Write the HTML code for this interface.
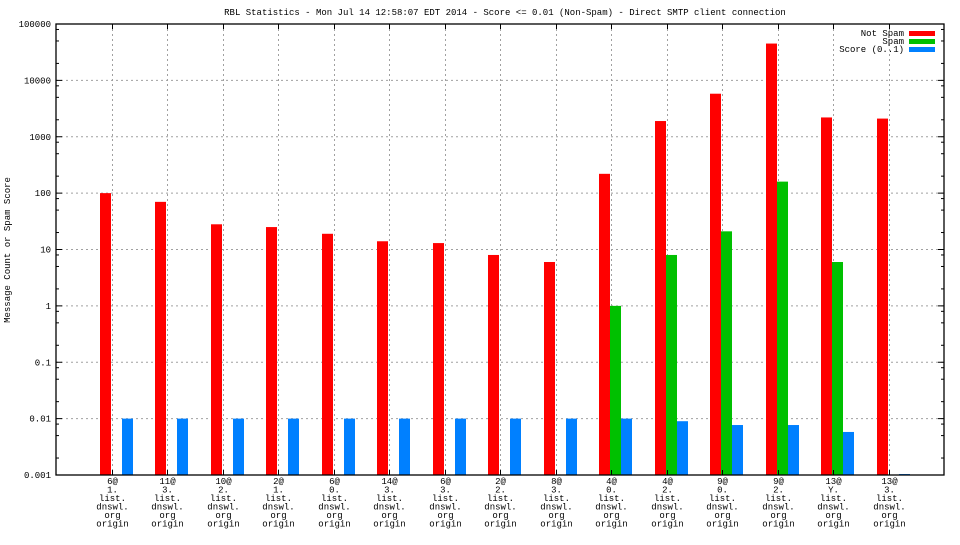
<!DOCTYPE html>
<html><head><meta charset="utf-8"><style>
html,body{margin:0;padding:0;background:#fff;}
svg text{font-family:"Liberation Mono","DejaVu Sans Mono",monospace;font-size:9px;fill:#000;}
</style></head><body>
<svg id="chart" width="960" height="540" xmlns="http://www.w3.org/2000/svg">
<text x="505" y="15" text-anchor="middle">RBL Statistics - Mon Jul 14 12:58:07 EDT 2014 - Score &lt;= 0.01 (Non-Spam) - Direct SMTP client connection</text>
<text transform="translate(10,250) rotate(-90)" text-anchor="middle">Message Count or Spam Score</text>
<g id="grid"></g><g id="bars"></g><g id="axes"></g>
<g>
<text x="904" y="36" text-anchor="end">Not Spam</text>
<rect x="909" y="31" width="26" height="5" fill="#ff0000"/>
<text x="904" y="44" text-anchor="end">Spam</text>
<rect x="909" y="39" width="26" height="5" fill="#00c000"/>
<text x="904" y="52" text-anchor="end">Score (0..1)</text>
<rect x="909" y="47" width="26" height="5" fill="#0080ff"/>
</g>
</svg>
<script>
const categories=[["6@","1."],["11@","3."],["10@","2."],["2@","1."],["6@","0."],["14@","3."],["6@","3."],["2@","2."],["8@","3."],["4@","0."],["4@","2."],["9@","0."],["9@","2."],["13@","Y."],["13@","3."]];
const notSpam=[100,70,28,25,19,14,13,8,6,220,1900,5800,45000,2200,2100];
const spam=[0,0,0,0,0,0,0,0,0,1,8,21,160,6,0];
const score=[0.01,0.01,0.01,0.01,0.01,0.01,0.01,0.01,0.01,0.01,0.009,0.0077,0.0077,0.0058,0.00104];
const yTicks=[0.001,0.01,0.1,1,10,100,1000,10000,100000];
const yTickLabels=["0.001","0.01","0.1","1","10","100","1000","10000","100000"];

const L=56,R=944,T=24,B=475,NS="http://www.w3.org/2000/svg";
const xs=i=>L+(R-L)*(i+1)/16;
const ys=v=>B-(Math.log10(v)+3)/8*(B-T);
function mk(tag,attrs,parent){const e=document.createElementNS(NS,tag);for(const k in attrs)e.setAttribute(k,attrs[k]);parent.appendChild(e);return e;}
const grid=document.getElementById('grid'),bars=document.getElementById('bars'),axes=document.getElementById('axes');
yTicks.forEach((v,i)=>{const y=ys(v);
 if(i>0&&i<yTicks.length-1){const g=mk('line',{x1:L,x2:R,y1:y,y2:y,stroke:'#a0a0a0','stroke-dasharray':'2,3','stroke-width':1},grid);
 
 }
 const t=mk('text',{x:L-5,y:y+3,'text-anchor':'end'},axes);t.textContent=yTickLabels[i];
 
 
 mk('line',{x1:L,x2:L+6,y1:y,y2:y,stroke:'#000'},axes);mk('line',{x1:R,x2:R-6,y1:y,y2:y,stroke:'#000'},axes);
 if(i<yTicks.length-1)[2,5,8].forEach(m=>{const yy=ys(v*m);mk('line',{x1:L,x2:L+3,y1:yy,y2:yy,stroke:'#000'},axes);mk('line',{x1:R,x2:R-3,y1:yy,y2:yy,stroke:'#000'},axes);});
});
categories.forEach((c,i)=>{const x=Math.round(xs(i))+0.5;
 const g=mk('line',{x1:x,x2:x,y1:T,y2:B,stroke:'#a0a0a0','stroke-dasharray':'2,3'},grid);
 
 
 mk('line',{x1:x,x2:x,y1:T,y2:T+5,stroke:'#000'},axes);mk('line',{x1:x,x2:x,y1:B,y2:B-5,stroke:'#000'},axes);
 const lines=[c[0],c[1],"list.","dnswl.","org","origin"];
 const t=mk('text',{'text-anchor':'middle'},axes);
 
 
 lines.forEach((s,k)=>{const ts=mk('tspan',{x:x,y:484+k*8.5},t);ts.textContent=s;});
 const cx=xs(i);
 [[notSpam[i],-12,'#ff0000','bar-not-spam'],[spam[i],-1,'#00c000','bar-spam'],[score[i],10,'#0080ff','bar-score']].forEach(([v,off,col,name])=>{
  if(!(v>0.001))return;const y=ys(v);
  const r=mk('rect',{x:Math.round(cx+off),y:y,width:11,height:B-y,fill:col},bars);
  
  
 });
});
const fr=mk('rect',{x:L,y:T,width:R-L,height:B-T,fill:'none',stroke:'#000','stroke-width':1.3},axes);


</script>
</body></html>
